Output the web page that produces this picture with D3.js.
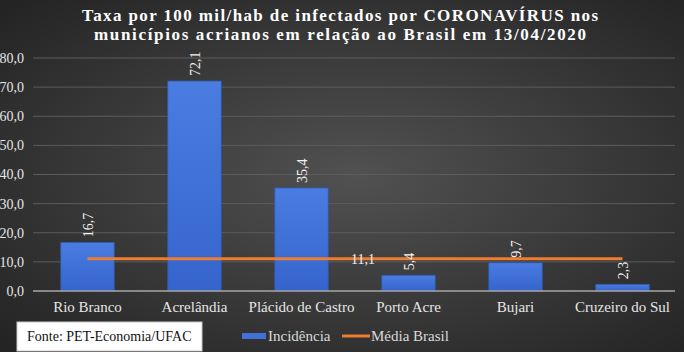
<!DOCTYPE html>
<html>
<head>
<meta charset="utf-8">
<script src="https://cdn.jsdelivr.net/npm/d3@7"></script>
<style>
  svg text { font-family: "Liberation Serif", "Times New Roman", serif; }
</style>
</head>
<body style="margin:0">
<svg id="chart" width="684" height="352" font-family="Liberation Serif"></svg>
<script>
// dados
const municipios = ["Rio Branco", "Acrelândia", "Plácido de Castro", "Porto Acre", "Bujari", "Cruzeiro do Sul"];
const incidencia = [16.7, 72.1, 35.4, 5.4, 9.7, 2.3];
const mediaBrasil = [11.1, 11.1, 11.1, 11.1, 11.1, 11.1];
const yTicks = [0, 10, 20, 30, 40, 50, 60, 70, 80];
const titulo = ["Taxa por 100 mil/hab de infectados por CORONAVÍRUS nos",
                "municípios acrianos  em relação ao Brasil em 13/04/2020"];
const fonte = "Fonte: PET-Economia/UFAC";

const W = 684, H = 352;
const fmt = v => v.toFixed(1).replace(".", ",");
const fonteSerif = "Liberation Serif";

const svg = d3.select("#chart");

const defs = svg.append("defs");
const bg = defs.append("radialGradient").attr("id", "bg")
    .attr("cx", "52%").attr("cy", "50%").attr("r", "70%");
bg.append("stop").attr("offset", "0%").attr("stop-color", "#515151");
bg.append("stop").attr("offset", "100%").attr("stop-color", "#242424");

const barGrad = defs.append("linearGradient").attr("id", "barGrad")
    .attr("x1", 0).attr("y1", 0).attr("x2", 0).attr("y2", 1);
barGrad.append("stop").attr("offset", "0%").attr("stop-color", "#4a7ce2");
barGrad.append("stop").attr("offset", "100%").attr("stop-color", "#3565cc");

svg.append("rect").attr("width", W).attr("height", H).attr("fill", "url(#bg)");

// escalas
const x = d3.scaleBand().domain(municipios).range([34, 676]).paddingInner(0.5).paddingOuter(0.25);
const y = d3.scaleLinear().domain([0, 80]).range([291, 58]);

// grade
svg.append("g").selectAll("line")
    .data(yTicks.filter(d => d > 0))
    .join("line")
    .attr("x1", 33).attr("x2", 675)
    .attr("y1", d => y(d)).attr("y2", d => y(d))
    .attr("stroke", "#5c5c5c").attr("stroke-width", 1);

// eixo Y (apenas rótulos)
const yAxis = svg.append("g")
    .attr("transform", "translate(24,0)")
    .call(d3.axisLeft(y).tickValues(yTicks).tickFormat(fmt).tickSize(0).tickPadding(0))
    .attr("font-family", fonteSerif);
yAxis.select(".domain").remove();
yAxis.selectAll("text").attr("fill", "#e6e6e6").attr("font-size", 14);

// barras
svg.append("g").selectAll("rect")
    .data(incidencia)
    .join("rect")
    .attr("x", (d, i) => x(municipios[i]))
    .attr("y", d => y(d))
    .attr("width", x.bandwidth())
    .attr("height", d => y(0) - y(d))
    .attr("fill", "url(#barGrad)")
    .attr("stroke", "#2e58a8")
    .attr("stroke-width", 0.8);

// eixo X
svg.append("line")
    .attr("x1", 33).attr("x2", 675)
    .attr("y1", y(0)).attr("y2", y(0))
    .attr("stroke", "#a6a6a6").attr("stroke-width", 1.5);

const xAxis = svg.append("g")
    .attr("transform", `translate(0,${y(0)})`)
    .call(d3.axisBottom(x).tickSize(0).tickPadding(10))
    .attr("font-family", fonteSerif);
xAxis.select(".domain").remove();
xAxis.selectAll("text").attr("fill", "#e6e6e6").attr("font-size", 15);

// linha Média Brasil
const line = d3.line()
    .x((d, i) => x(municipios[i]) + x.bandwidth() / 2)
    .y(d => y(d));
svg.append("path")
    .datum(mediaBrasil)
    .attr("d", line)
    .attr("fill", "none")
    .attr("stroke", "#ed7d31")
    .attr("stroke-width", 3);

// rótulos das barras (rotacionados)
svg.append("g").selectAll("text")
    .data(incidencia)
    .join("text")
    .attr("transform", (d, i) =>
        `translate(${x(municipios[i]) + x.bandwidth() / 2 + 5},${y(d) - 5}) rotate(-90)`)
    .attr("fill", "#f2f2f2")
    .attr("font-size", 14)
    .text(d => fmt(d));

// rótulo da média
const xm = (x(municipios[2]) + x(municipios[3])) / 2 + x.bandwidth() / 2 + 8;
svg.append("text")
    .attr("x", xm)
    .attr("y", y(mediaBrasil[2]))
    .attr("dy", "0.35em")
    .attr("text-anchor", "middle")
    .attr("fill", "#f2f2f2")
    .attr("font-size", 14)
    .text(fmt(mediaBrasil[2]));

// título
svg.append("g").selectAll("text")
    .data(titulo)
    .join("text")
    .attr("x", (d, i) => i === 0 ? 82 : 94)
    .attr("y", (d, i) => 21 + i * 19)
    .attr("textLength", (d, i) => i === 0 ? 516 : 492)
    .attr("lengthAdjust", "spacing")
    .attr("fill", "#ffffff")
    .attr("font-size", 17)
    .attr("font-weight", "bold")
    .text(d => d);

// legenda
const leg = svg.append("g");
leg.append("rect")
    .attr("x", 242).attr("y", 333).attr("width", 24).attr("height", 6)
    .attr("fill", "#3f72d8");
leg.append("text")
    .attr("x", 268).attr("y", 341)
    .attr("fill", "#d9d9d9").attr("font-size", 15)
    .text("Incidência");
leg.append("line")
    .attr("x1", 342).attr("x2", 370).attr("y1", 336).attr("y2", 336)
    .attr("stroke", "#ed7d31").attr("stroke-width", 3);
leg.append("text")
    .attr("x", 371).attr("y", 341)
    .attr("fill", "#d9d9d9").attr("font-size", 15)
    .text("Média Brasil");

// fonte
svg.append("rect")
    .attr("x", 17).attr("y", 322).attr("width", 185).attr("height", 29)
    .attr("fill", "#ffffff").attr("stroke", "#c8c8c8");
svg.append("text")
    .attr("x", 27).attr("y", 341)
    .attr("fill", "#111")
    .attr("font-size", 14)
    .text(fonte);

svg.selectAll("text").attr("font-family", fonteSerif);
</script>
</body>
</html>
